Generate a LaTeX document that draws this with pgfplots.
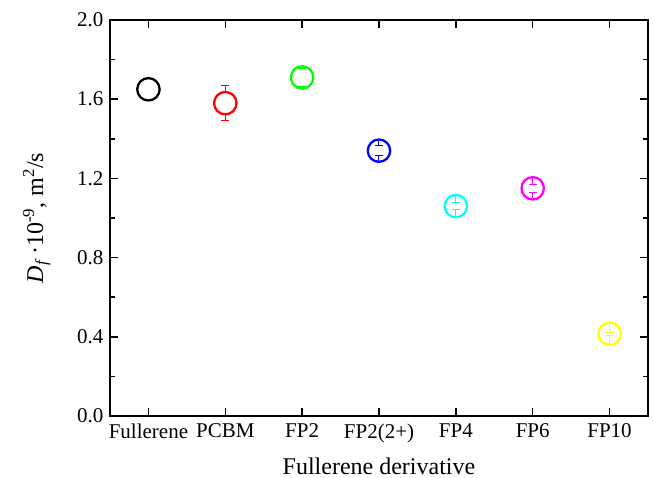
\documentclass[border=0pt]{standalone}
\usepackage{fontspec}
\setmainfont{Liberation Serif}
\usepackage{pgfplots}
\pgfplotsset{compat=1.18}

\definecolor{cBlack}{RGB}{0,0,0}
\definecolor{cRed}{RGB}{255,0,0}
\definecolor{cGreen}{RGB}{0,255,0}
\definecolor{cBlue}{RGB}{0,0,255}
\definecolor{cCyan}{RGB}{0,255,255}
\definecolor{cMagenta}{RGB}{255,0,255}
\definecolor{cYellow}{RGB}{255,255,0}

\pgfplotsset{
  % open circle for each mean value
  dpoint/.style={only marks, mark=o, mark size=11.2pt, line width=2.3pt, color=#1},
  % error bar stem: from the cap to the rim of the circle
  estem/.style={draw=#1, line width=1pt, mark=none, forget plot},
  % error bar caps at mean +- error
  ecap/.style={only marks, mark=-, mark size=4pt, forget plot,
    mark options={draw=#1, line width=1pt}},
}

\begin{document}
\begin{tikzpicture}
\useasboundingbox (-110pt,-62pt) rectangle (544pt,416pt);
\begin{axis}[
  at={(0,0)}, anchor=south west,
  scale only axis, width=538pt, height=396pt,
  xmin=-0.5, xmax=6.5, ymin=0, ymax=2.0,
  xtick={0,1,2,3,4,5,6},
  xticklabels={Fullerene,PCBM,FP2,FP2(2+),FP4,FP6,FP10},
  ytick={0,0.4,0.8,1.2,1.6,2.0},
  minor ytick={0.2,0.6,1.0,1.4,1.8},
  yticklabel style={xshift=-3pt, /pgf/number format/.cd, fixed, fixed zerofill, precision=1},
  /pgf/number format/assume math mode=true,
  tick align=inside,
  major tick length=8pt, minor tick length=5pt,
  every tick/.style={black, line width=1.5pt},
  axis line style={line width=1.8pt},
  tick label style={font=\fontsize{21}{25}\selectfont},
  xticklabel style={yshift=-4pt},
  label style={font=\fontsize{24}{28}\selectfont},
  xlabel={Fullerene derivative},
  xlabel shift=8pt,
  ylabel={\textit{D}\textsubscript{\textit{f}}\,·10\textsuperscript{-9}, m\textsuperscript{2}/s},
  ylabel shift=20pt,
  clip=false,
]
% PCBM: 1.58 +- 0.09
\addplot[estem=cRed] coordinates {(1,1.670) (1,1.631)};
\addplot[estem=cRed] coordinates {(1,1.490) (1,1.529)};
\addplot[ecap=cRed] coordinates {(1,1.670) (1,1.490)};
% FP2: 1.71 +- 0.044
\addplot[ecap=cGreen] coordinates {(2,1.754) (2,1.666)};
% FP2(2+): 1.34 +- 0.026
\addplot[estem=cBlue] coordinates {(3,1.366) (3,1.391)};
\addplot[estem=cBlue] coordinates {(3,1.314) (3,1.289)};
\addplot[ecap=cBlue] coordinates {(3,1.366) (3,1.314)};
% FP4: 1.06 +- 0.016
\addplot[estem=cCyan] coordinates {(4,1.076) (4,1.111)};
\addplot[estem=cCyan] coordinates {(4,1.044) (4,1.009)};
\addplot[ecap=cCyan] coordinates {(4,1.076) (4,1.044)};
% FP6: 1.15 +- 0.019
\addplot[estem=cMagenta] coordinates {(5,1.169) (5,1.201)};
\addplot[estem=cMagenta] coordinates {(5,1.131) (5,1.099)};
\addplot[ecap=cMagenta] coordinates {(5,1.169) (5,1.131)};
% FP10: 0.415 +- 0.008
\addplot[estem=cYellow] coordinates {(6,0.423) (6,0.466)};
\addplot[estem=cYellow] coordinates {(6,0.407) (6,0.364)};
\addplot[ecap=cYellow] coordinates {(6,0.423) (6,0.407)};

% mean values
\addplot[dpoint=cBlack]   coordinates {(0,1.65)};
\addplot[dpoint=cRed]     coordinates {(1,1.58)};
\addplot[dpoint=cGreen]   coordinates {(2,1.71)};
\addplot[dpoint=cBlue]    coordinates {(3,1.34)};
\addplot[dpoint=cCyan]    coordinates {(4,1.06)};
\addplot[dpoint=cMagenta] coordinates {(5,1.15)};
\addplot[dpoint=cYellow]  coordinates {(6,0.415)};
\end{axis}
\end{tikzpicture}
\end{document}
